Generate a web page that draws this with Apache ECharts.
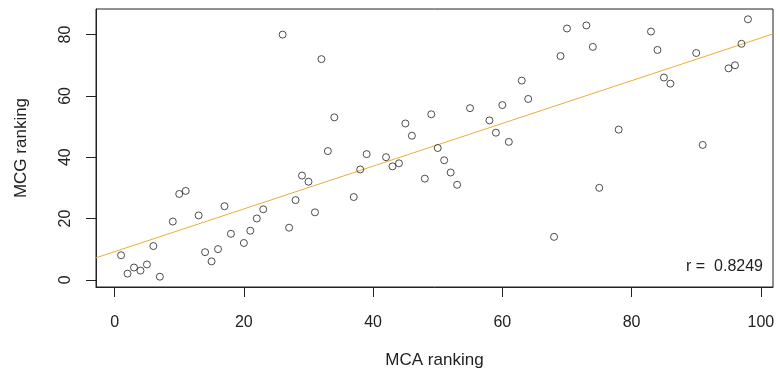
<!DOCTYPE html>
<html>
<head>
<meta charset="utf-8">
<script src="https://cdn.jsdelivr.net/npm/echarts@6/dist/echarts.min.js"></script>
<style>
  html, body { margin: 0; padding: 0; background: #fff; }
  #chart { width: 780px; height: 374px; }
</style>
</head>
<body>
<div id="chart"></div>
<script>
// Rankings of the same items under the two methods
const mcaRank = [1, 2, 3, 4, 5, 6, 7, 9, 10, 11, 13, 14, 15, 16, 17, 18, 20, 21, 22, 23,
  26, 27, 28, 29, 30, 31, 32, 33, 34, 37, 38, 39, 42, 43, 44, 45, 46, 48, 49, 50,
  51, 52, 53, 55, 58, 59, 60, 61, 63, 64, 68, 69, 70, 73, 74, 75, 78, 83, 84, 85,
  86, 90, 91, 95, 96, 97, 98];
const mcgRank = [8, 2, 4, 3, 5, 11, 1, 19, 28, 29, 21, 9, 6, 10, 24, 15, 12, 16, 20, 23,
  80, 17, 26, 34, 32, 22, 72, 42, 53, 27, 36, 41, 40, 37, 38, 51, 47, 33, 54, 43,
  39, 35, 31, 56, 52, 48, 57, 45, 65, 59, 14, 73, 82, 83, 76, 30, 49, 81, 75, 66,
  64, 74, 44, 69, 70, 77, 85];
const xTicks = [0, 20, 40, 60, 80, 100];
const yTicks = [0, 20, 40, 60, 80];
const corrLabel = 'r =  0.8249';

// Axis limits: data range padded by 4% on each side
function paddedRange(v) {
  const lo = Math.min(...v), hi = Math.max(...v), pad = (hi - lo) * 0.04;
  return [lo - pad, hi + pad];
}
const [xMin, xMax] = paddedRange(mcaRank);
const [yMin, yMax] = paddedRange(mcgRank);

// Least-squares fit of MCG on MCA
const n = mcaRank.length;
const mx = mcaRank.reduce((a, b) => a + b, 0) / n;
const my = mcgRank.reduce((a, b) => a + b, 0) / n;
let sxy = 0, sxx = 0;
for (let i = 0; i < n; i++) {
  sxy += (mcaRank[i] - mx) * (mcgRank[i] - my);
  sxx += (mcaRank[i] - mx) ** 2;
}
const slope = sxy / sxx;
const intercept = my - slope * mx;
const fitLine = [[xMin, intercept + slope * xMin], [xMax, intercept + slope * xMax]];

const points = mcaRank.map((x, i) => [x, mcgRank[i]]);

const font = 'Liberation Sans, Arial, sans-serif';
const ink = '#222';

const chart = echarts.init(document.getElementById('chart'), null, { renderer: 'canvas' });
chart.setOption({
  animation: false,
  grid: {
    left: 96, top: 9, right: 7, bottom: 87,
    outerBoundsMode: 'none', containLabel: false,
    show: true, borderColor: ink, borderWidth: 1, backgroundColor: 'transparent'
  },
  xAxis: {
    type: 'value', min: xMin, max: xMax,
    name: 'MCA ranking', nameLocation: 'middle', nameGap: 65,
    nameTextStyle: { fontFamily: font, fontSize: 17, color: ink },
    axisLine: { show: true, onZero: false, lineStyle: { color: ink, width: 1 } },
    axisTick: { show: true, length: 10, lineStyle: { color: ink }, customValues: xTicks },
    axisLabel: { customValues: xTicks, margin: 28, fontFamily: font, fontSize: 16, color: ink },
    splitLine: { show: false }
  },
  yAxis: {
    type: 'value', min: yMin, max: yMax,
    name: 'MCG ranking', nameLocation: 'middle', nameGap: 66, nameRotate: 90,
    nameTextStyle: { fontFamily: font, fontSize: 17, color: ink },
    axisLine: { show: true, onZero: false, lineStyle: { color: ink, width: 1 } },
    axisTick: { show: true, length: 10, lineStyle: { color: ink }, customValues: yTicks },
    axisLabel: { customValues: yTicks, rotate: 90, margin: 22, fontFamily: font, fontSize: 16, color: ink },
    splitLine: { show: false }
  },
  series: [
    {
      type: 'line', data: fitLine, symbol: 'none', silent: true, z: 1,
      lineStyle: { color: '#E6AE3A', width: 1 }
    },
    {
      type: 'scatter', data: points, symbol: 'circle', symbolSize: 7, z: 2,
      itemStyle: { color: 'rgba(0,0,0,0)', borderColor: ink, borderWidth: 1 }
    }
  ],
  graphic: [{
    type: 'text', right: 17, top: 259,
    style: { text: corrLabel, font: '16px ' + font, fill: ink }
  }]
});
</script>
</body>
</html>
